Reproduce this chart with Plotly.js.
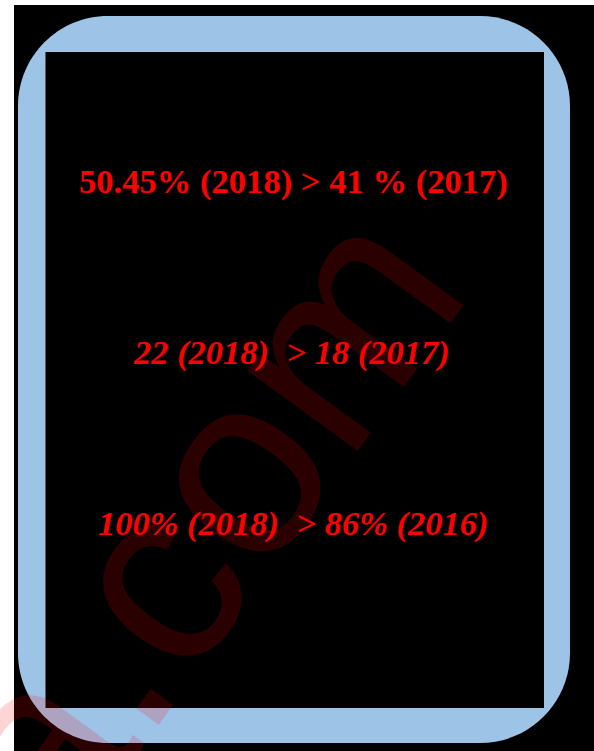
<!DOCTYPE html>
<html>
<head>
<meta charset="utf-8">
<script src="https://cdn.plot.ly/plotly-3.0.1.min.js"></script>
<style>
html,body{margin:0;padding:0;background:#fff;}
#chart{width:594px;height:751px;}
</style>
</head>
<body>
<div id="chart"></div>
<script>
// Data
var currentYear   = ["2018", "2018", "2018"];
var currentValues = ["50.45%", "22", "100%"];
var pastValues    = ["41 %", "18", "86%"];
var pastYears     = ["2017", "2017", "2016"];
var lineItalic    = [false, true, true];
var lineGap       = [" ", " \u00a0", " \u00a0"];
var watermarkText = "a.com";

// Layout geometry (pixels)
var W = 594, H = 751;
var lineY = [181, 352, 523];
var lineX = [293, 291, 293];
var lineSize = [34.6, 34.5, 34.5];

function roundedRectPath(x0, y0, x1, y1, r) {
  var k = 0.5523 * r;
  return "M" + (x0 + r) + "," + y0 +
    " L" + (x1 - r) + "," + y0 +
    " C" + (x1 - r + k) + "," + y0 + " " + x1 + "," + (y0 + r - k) + " " + x1 + "," + (y0 + r) +
    " L" + x1 + "," + (y1 - r) +
    " C" + x1 + "," + (y1 - r + k) + " " + (x1 - r + k) + "," + y1 + " " + (x1 - r) + "," + y1 +
    " L" + (x0 + r) + "," + y1 +
    " C" + (x0 + r - k) + "," + y1 + " " + x0 + "," + (y1 - r + k) + " " + x0 + "," + (y1 - r) +
    " L" + x0 + "," + (y0 + r) +
    " C" + x0 + "," + (y0 + r - k) + " " + (x0 + r - k) + "," + y0 + " " + (x0 + r) + "," + y0 + " Z";
}

var shapes = [
  {type: "rect", xref: "x", yref: "y", x0: 14, x1: 594, y0: 5, y1: 751,
   fillcolor: "#000000", line: {width: 0}, layer: "below"},
  {type: "path", xref: "x", yref: "y", path: roundedRectPath(18, 16, 570, 743, 90),
   fillcolor: "#9DC3E6", line: {width: 0}, layer: "below"},
  {type: "rect", xref: "x", yref: "y", x0: 45.5, x1: 544, y0: 52, y1: 708,
   fillcolor: "#000000", line: {width: 0}, layer: "below"}
];

var annotations = [];
// watermark
annotations.push({
  xref: "x", yref: "y", x: 194, y: 523, text: watermarkText, showarrow: false,
  textangle: -54, xanchor: "center", yanchor: "middle",
  font: {family: "Liberation Sans, Arial, sans-serif", size: 258, color: "rgba(255,0,0,0.17)"}
});
for (var i = 0; i < currentValues.length; i++) {
  var txt = currentValues[i] + " (" + currentYear[i] + ")" + lineGap[i] + "> " +
            pastValues[i] + " (" + pastYears[i] + ")";
  txt = lineItalic[i] ? "<b><i>" + txt + "</i></b>" : "<b>" + txt + "</b>";
  annotations.push({
    xref: "x", yref: "y", x: lineX[i], y: lineY[i], text: txt, showarrow: false,
    xanchor: "center", yanchor: "middle",
    font: {family: "Liberation Serif, Times New Roman, serif", size: lineSize[i], color: "#FF0000"}
  });
}

var layout = {
  width: W, height: H,
  margin: {l: 0, r: 0, t: 0, b: 0, pad: 0},
  paper_bgcolor: "#FFFFFF", plot_bgcolor: "rgba(0,0,0,0)",
  showlegend: false,
  xaxis: {range: [0, W], visible: false, fixedrange: true},
  yaxis: {range: [H, 0], visible: false, fixedrange: true},
  shapes: shapes,
  annotations: annotations
};

Plotly.newPlot("chart", [{type: "scatter", x: [], y: [], hoverinfo: "skip"}], layout,
  {staticPlot: true, displayModeBar: false});
</script>
</body>
</html>
